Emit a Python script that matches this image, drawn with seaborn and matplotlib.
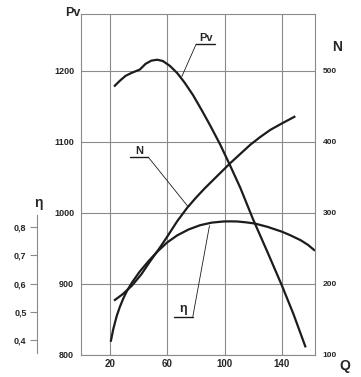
import matplotlib
matplotlib.use("Agg")
import matplotlib.pyplot as plt
import seaborn as sns
import numpy as np

# ---------------- data ----------------
q_pv = [23, 27, 31, 35, 38, 41, 45, 49, 53, 57, 62, 67, 72, 78, 84, 90, 97, 104, 111, 120, 130, 140, 148, 156.5]
pv = [1178, 1186, 1193, 1197, 1199.5, 1202, 1210, 1214.5, 1215.8, 1214, 1207, 1197, 1184, 1166, 1145, 1123,
      1096, 1066, 1035, 990, 944, 897, 857, 810]

q_n = [23, 29, 35.4, 42, 48, 54, 60, 67, 74, 80, 86, 92, 98, 104, 111, 118, 125, 132, 140, 149.3]
n_vals = [176, 185, 197, 213, 231, 248, 266, 288, 307, 321, 334, 346, 358, 370, 383, 396, 407, 417, 426, 436]

q_eta = [20.7, 22.5, 24.9, 27, 29.5, 32, 35.4, 41, 47, 53, 60, 67, 75, 83, 91, 99, 104, 109, 115, 121, 130, 140,
         146, 153, 158, 163]
eta = [0.395, 0.44, 0.486, 0.517, 0.548, 0.574, 0.603, 0.643, 0.679, 0.712, 0.745, 0.77, 0.791, 0.806, 0.815,
       0.819, 0.8195, 0.819, 0.816, 0.812, 0.80, 0.783, 0.77, 0.753, 0.737, 0.716]

q_ticks = [20, 60, 100, 140]
pv_ticks = [800, 900, 1000, 1100, 1200]
n_ticks = [100, 200, 300, 400, 500]
eta_ticks = [0.4, 0.5, 0.6, 0.7, 0.8]
eta_labels = ["0,4", "0,5", "0,6", "0,7", "0,8"]

# ---------------- style ----------------
sns.set_style("white")
plt.rcParams["font.family"] = ["Liberation Sans", "DejaVu Sans"]
plt.rcParams["font.weight"] = "bold"

W, H = 361, 377
fig = plt.figure(figsize=(W / 100, H / 100), dpi=100)
L, R, T, B = 81, 315, 13.5, 354.5
ax = fig.add_axes([L / W, (H - B) / H, (R - L) / W, (B - T) / H])

line_c = "#1c1c1c"
grid_c = "#8a8a8a"
text_c = "#262626"
lw = 1.6

pv_lim = (800, 1281)
ax.set_xlim(0, 163)
ax.set_ylim(*pv_lim)

# N axis (right)
ax_n = ax.twinx()
ax_n.set_ylim(pv_lim[0] - 700, pv_lim[1] - 700)
# eta axis (separate left axis)
ax_e = ax.twinx()
ax_e.set_ylim(0.6 + (pv_lim[0] - 900) / 400, 0.6 + (pv_lim[1] - 900) / 400)

sns.lineplot(x=q_pv, y=pv, ax=ax, color=line_c, linewidth=lw, estimator=None)
sns.lineplot(x=q_n, y=n_vals, ax=ax_n, color=line_c, linewidth=lw, estimator=None)
sns.lineplot(x=q_eta, y=eta, ax=ax_e, color=line_c, linewidth=lw, estimator=None)
for a in (ax, ax_n, ax_e):
    for ln in a.get_lines():
        ln.set_solid_joinstyle("round")
        ln.set_solid_capstyle("butt")

# main axes styling
ax.set_xticks(q_ticks)
ax.set_yticks(pv_ticks)
ax.set_xticklabels([str(v) for v in q_ticks])
ax.set_yticklabels([str(v) for v in pv_ticks])
ax.tick_params(axis="x", length=0, pad=3, labelsize=7, labelcolor=text_c)
ax.tick_params(axis="y", length=0, pad=5, labelsize=6.5, labelcolor=text_c)
ax.grid(True, color=grid_c, linewidth=0.8)
for s in ax.spines.values():
    s.set_color(grid_c)
    s.set_linewidth(0.8)
ax.set_xlabel("")
ax.set_ylabel("")

# N axis styling
ax_n.set_yticks(n_ticks)
ax_n.set_yticklabels([str(v) for v in n_ticks])
ax_n.tick_params(axis="y", length=0, pad=5.5, labelsize=6, labelcolor=text_c)
for s in ax_n.spines.values():
    s.set_visible(False)
ax_n.set_ylabel("")
ax_n.grid(False)

# eta axis styling
for name, s in ax_e.spines.items():
    s.set_visible(name == "left")
ax_e.spines["left"].set_position(("axes", (36.7 - L) / (R - L)))
ax_e.spines["left"].set_bounds(0.357, 0.843)
ax_e.spines["left"].set_color(grid_c)
ax_e.spines["left"].set_linewidth(0.8)
ax_e.yaxis.set_ticks_position("left")
ax_e.yaxis.set_label_position("left")
ax_e.set_yticks(eta_ticks)
ax_e.set_yticklabels(eta_labels)
ax_e.tick_params(axis="y", direction="out", length=5.3, width=0.8, color=grid_c, pad=2,
                 labelsize=6.5, labelcolor=text_c)
ax_e.set_ylabel("")
ax_e.grid(False)

# axis titles
fig.text(80 / W, 1 - 13.3 / H, "Pv", ha="right", va="center", fontsize=9, fontweight="bold", color=text_c)
fig.text(336.7 / W, 1 - 46.7 / H, "N", ha="center", va="center", fontsize=10, fontweight="bold", color=text_c)
fig.text(345 / W, 1 - 366 / H, "Q", ha="center", va="center", fontsize=10, fontweight="bold", color=text_c)
fig.text(38.3 / W, 1 - 203.3 / H, "η", ha="center", va="center", fontsize=10, fontweight="bold", color=text_c)

# curve labels with leader lines (data coords of the Pv axis)
lead_kw = dict(color=line_c, linewidth=0.6)
ul_kw = dict(color=line_c, linewidth=1.0)
# Pv
ax.plot([80.2, 93.5], [1237.7, 1237.7], **ul_kw)
ax.plot([80.2, 70.2], [1237.7, 1192], **lead_kw)
ax.text(86.9, 1240, "Pv", ha="center", va="bottom", fontsize=8, fontweight="bold", color=text_c)
# N
ax.plot([34.2, 46.9], [1078.3, 1078.3], **ul_kw)
ax.plot([46.9, 74.4], [1078.3, 1009], **lead_kw)
ax.text(40.3, 1080.5, "N", ha="center", va="bottom", fontsize=8, fontweight="bold", color=text_c)
# eta
ax.plot([64.9, 77.9], [853.5, 853.5], **ul_kw)
ax.plot([77.9, 89.5], [853.5, 981.8], **lead_kw)
ax.text(71.5, 856, "η", ha="center", va="bottom", fontsize=9, fontweight="bold", color=text_c)

fig.savefig("out.png", dpi=100)
